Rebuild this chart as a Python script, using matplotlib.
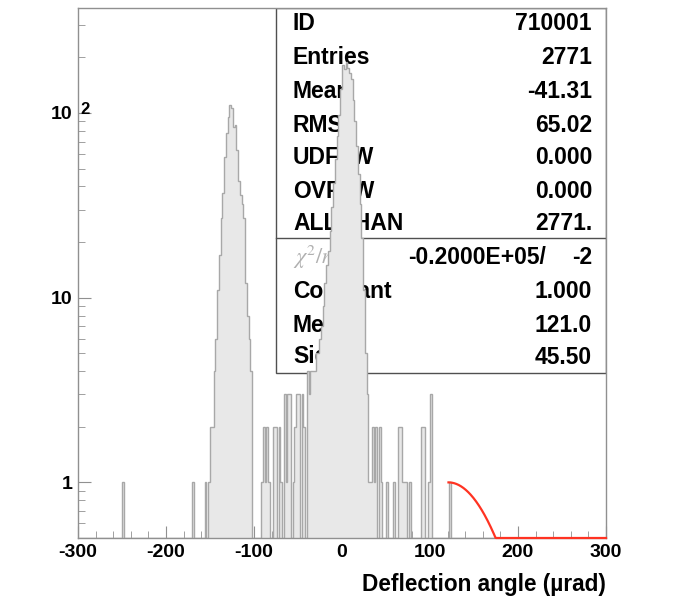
import numpy as np
import matplotlib
matplotlib.use("Agg")
import matplotlib.pyplot as plt
from matplotlib.patches import Rectangle
from matplotlib.ticker import LogLocator, MultipleLocator, NullFormatter

plt.rcParams['font.family'] = ['Liberation Sans', 'DejaVu Sans']
plt.rcParams['axes.unicode_minus'] = False

# histogram: 2 urad bins from -300 to 300, only the non-empty bins are listed (left edge, count)
bin_width = 2
bin_lo = [-250, -170, -156, -152, -150, -148,
          -146, -144, -142, -140, -138, -136, -134, -132, -130, -128, -126, -124, -122,
          -120, -118, -116, -114, -112, -110, -108, -106, -104,
          -92, -90, -88, -86, -84, -78, -76, -72, -70, -66, -64, -62, -60,
          -56, -54, -52, -50, -46, -44, -40, -38, -36,
          -34, -32, -30, -28, -26, -24, -22, -20, -18, -16, -14, -12, -10, -8, -6, -4, -2,
          0, 2, 4, 6, 8, 10, 12, 14, 16, 18, 20, 22, 24, 26, 28,
          30, 32, 34, 36, 38, 42, 44, 50, 58, 64, 66, 68, 70, 72, 76,
          90, 92, 98, 100, 122]
counts = [1, 1, 1, 1, 2, 2,
          4, 6, 11, 17, 27, 37, 58, 78, 95, 110, 106, 84, 86,
          63, 43, 36, 32, 27, 12, 8, 6, 4,
          1, 2, 1, 2, 1, 2, 2, 2, 1, 3, 1, 3, 3,
          1, 2, 3, 3, 3, 2, 4, 3, 4,
          4, 4, 5, 5, 6, 7, 9, 12, 15, 18, 23, 31, 42, 56, 75, 98, 135,
          182, 172, 188, 176, 165, 152, 117, 90, 66, 47, 32, 21, 11, 5, 3,
          1, 1, 2, 1, 2, 2, 1, 1, 1, 2, 2, 1, 1, 1, 1,
          2, 2, 1, 3, 1]

# gaussian fit parameters shown in the box
fit_const = 1.000
fit_mean = 121.0
fit_sigma = 45.50

stat_labels = ['ID', 'Entries', 'Mean', 'RMS', 'UDFLW', 'OVFLW', 'ALLCHAN']
stat_values = ['710001', '2771', '-41.31', '65.02', '0.000', '0.000', '2771.']
fit_labels = ['Constant', 'Mean', 'Sigma']
fit_values = ['1.000', '121.0', '45.50']
chi2_text = '-0.2000E+05/'
ndf_text = '-2'

ymin, ymax = 0.5, 370

fig = plt.figure(figsize=(6.87, 6.0), dpi=100)
ax = fig.add_axes([78/687, 62/600, 528/687, 530/600])
ax.set_yscale('log')
ax.set_xlim(-300, 300)
ax.set_ylim(ymin, ymax)

edges = np.arange(-300, 300 + bin_width, bin_width)
full = np.zeros(len(edges) - 1)
idx = ((np.array(bin_lo) + 300) // bin_width).astype(int)
full[idx] = counts
vals = np.where(full > 0, full, ymin)
ax.stairs(vals, edges, baseline=ymin, fill=True, facecolor='#e8e8e8', edgecolor='none', zorder=3)
ax.stairs(vals, edges, baseline=ymin, fill=False, edgecolor='#a8a8a8', lw=1.0, zorder=3.1)

xf = np.linspace(fit_mean, 300, 400)
yf = fit_const * np.exp(-0.5 * ((xf - fit_mean) / fit_sigma) ** 2)
ax.plot(xf, np.maximum(yf, ymin), color='#ff3322', lw=1.6, zorder=6, clip_on=False)

# stats box, drawn below the histogram like in PAW
def ay(ypix):
    return (538 - ypix) / 530

def ax_(xpix):
    return (xpix - 78) / 528

ax.add_patch(Rectangle((ax_(276), ay(373)), 1.0 - ax_(276), ay(8) - ay(373),
                       transform=ax.transAxes, facecolor='white', edgecolor='#505050',
                       lw=1.0, zorder=1))
ax.plot([ax_(276), 1.0], [ay(238), ay(238)], transform=ax.transAxes,
        color='#505050', lw=1.0, zorder=1.2)

fs = 16.5
row_y = [24, 57, 91, 125, 158, 191, 224]
for lab, val, yp in zip(stat_labels, stat_values, row_y):
    ax.text(ax_(293), ay(yp), lab, transform=ax.transAxes, ha='left', va='center',
            fontsize=fs, fontweight='bold', zorder=2)
    ax.text(ax_(592), ay(yp), val, transform=ax.transAxes, ha='right', va='center',
            fontsize=fs, fontweight='bold', zorder=2)

ax.text(ax_(293), ay(257), r'$\chi^{2}/ndf$', transform=ax.transAxes, ha='left', va='center',
        fontsize=16, color='#b0b0b0', zorder=2, math_fontfamily='stix')
ax.text(ax_(546), ay(257), chi2_text, transform=ax.transAxes, ha='right', va='center',
        fontsize=fs, fontweight='bold', zorder=2)
ax.text(ax_(592), ay(257), ndf_text, transform=ax.transAxes, ha='right', va='center',
        fontsize=fs, fontweight='bold', zorder=2)
for lab, val, yp in zip(fit_labels, fit_values, [291, 325, 357]):
    ax.text(ax_(293), ay(yp), lab, transform=ax.transAxes, ha='left', va='center',
            fontsize=fs, fontweight='bold', zorder=2)
    ax.text(ax_(592), ay(yp), val, transform=ax.transAxes, ha='right', va='center',
            fontsize=fs, fontweight='bold', zorder=2)

# axes styling
for s in ax.spines.values():
    s.set_color('#909090')
    s.set_linewidth(1.0)
    s.set_zorder(5)

ax.set_xticks([-300, -200, -100, 0, 100, 200, 300],
              labels=['-300', '-200', '-100', '0', '100', '200', '300'])
ax.xaxis.set_minor_locator(MultipleLocator(20))
ax.set_yticks([1, 10, 100], labels=['1', '10', '10'])
ax.yaxis.set_minor_locator(LogLocator(base=10, subs=np.arange(2, 10)))
ax.yaxis.set_minor_formatter(NullFormatter())
ax.tick_params(which='both', direction='in', color='#909090', top=False, right=False)
ax.tick_params(which='major', length=9, labelsize=14, pad=4)
ax.tick_params(which='minor', length=5)
for t in ax.get_xticklabels() + ax.get_yticklabels():
    t.set_fontweight('bold')
# PAW puts the exponent of 10^2 just right of the axis line
ax.text(ax_(80), 104, '2', transform=ax.get_yaxis_transform(), ha='left', va='center',
        fontsize=12, fontweight='bold', zorder=6)

fig.text(606/687, 1 - 585/600, 'Deflection angle (\u00b5rad)', ha='right', va='center',
         fontsize=16.3, fontweight='bold')

fig.savefig('out.png', dpi=100)
